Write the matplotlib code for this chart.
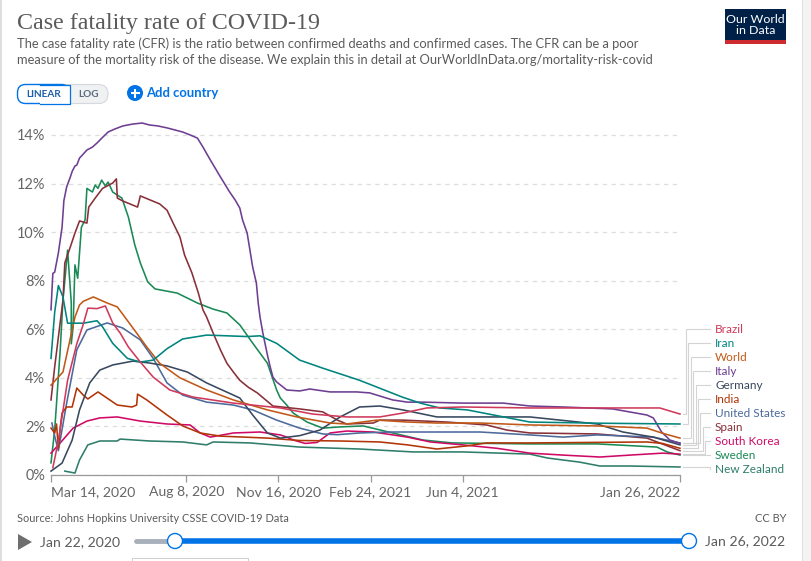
import matplotlib
matplotlib.use("Agg")
import matplotlib.pyplot as plt
import pandas as pd
from matplotlib.patches import Rectangle, FancyBboxPatch, Circle, Polygon

W, H = 811, 561
START = pd.Timestamp("2020-03-14")

tick_dates = ["2020-03-14", "2020-08-08", "2020-11-16", "2021-02-24", "2021-06-04", "2022-01-26"]
tick_labels = ["Mar 14, 2020", "Aug 8, 2020", "Nov 16, 2020", "Feb 24, 2021", "Jun 4, 2021", "Jan 26, 2022"]
y_ticks = [0, 2, 4, 6, 8, 10, 12, 14]

italy_days = [0, 2, 4, 8, 12, 14, 17, 21, 23, 26, 28, 31, 34, 39, 45, 50, 56, 62, 69, 78, 89, 99, 107, 116, 126, 135, 143, 151, 159, 165, 173, 184, 194, 200, 205, 208, 213, 216, 219, 223, 225, 227, 230, 235, 238, 241, 245, 256, 270, 281, 303, 332, 346, 371, 387, 404, 447, 491, 520, 556, 610, 647, 654, 663, 672, 683]
italy_cfr = [6.8, 8.3, 8.35, 9.14, 10.2, 11.3, 11.86, 12.27, 12.5, 12.72, 12.76, 13.05, 13.17, 13.38, 13.5, 13.67, 13.9, 14.12, 14.24, 14.37, 14.45, 14.49, 14.41, 14.37, 14.29, 14.2, 14.12, 14.0, 13.87, 13.5, 12.97, 12.27, 11.65, 11.32, 10.99, 10.5, 9.96, 9.26, 8.56, 7.9, 7.08, 6.5, 5.85, 4.94, 4.45, 4.03, 3.83, 3.5, 3.46, 3.54, 3.42, 3.42, 3.38, 3.09, 3.0, 3.0, 2.96, 2.96, 2.84, 2.8, 2.72, 2.47, 2.35, 1.77, 1.44, 1.3]

brazil_days = [2, 8, 18, 28, 35, 40, 50, 59, 67, 75, 84, 97, 111, 129, 154, 198, 249, 284, 321, 357, 382, 408, 447, 520, 610, 661, 683]
brazil_cfr = [0.3, 1.4, 3.9, 5.4, 6.2, 6.87, 6.85, 6.96, 6.26, 5.85, 5.27, 4.65, 4.03, 3.5, 3.21, 2.96, 2.76, 2.51, 2.39, 2.39, 2.55, 2.76, 2.8, 2.76, 2.76, 2.76, 2.51]

iran_days = [0, 4, 8, 13, 18, 35, 50, 56, 67, 83, 97, 111, 126, 143, 169, 213, 227, 245, 270, 295, 335, 382, 401, 422, 452, 520, 600, 683]
iran_cfr = [4.8, 6.7, 7.8, 7.33, 6.25, 6.25, 6.35, 6.1, 5.42, 4.8, 4.65, 4.73, 5.2, 5.6, 5.76, 5.7, 5.73, 5.42, 4.73, 4.4, 3.9, 3.2, 2.96, 2.76, 2.68, 2.18, 2.13, 2.1]

world_days = [0, 13, 26, 31, 35, 46, 61, 72, 89, 104, 118, 140, 169, 198, 235, 267, 303, 321, 354, 387, 419, 466, 520, 593, 647, 663, 683]
world_cfr = [3.7, 4.24, 6.5, 7.0, 7.15, 7.33, 7.08, 6.92, 6.05, 5.27, 4.6, 4.0, 3.5, 3.09, 2.68, 2.39, 2.14, 2.1, 2.26, 2.18, 2.14, 2.14, 2.06, 2.02, 1.93, 1.73, 1.52]

germany_days = [0, 12, 23, 31, 42, 53, 67, 89, 107, 126, 148, 169, 205, 219, 235, 249, 270, 292, 314, 335, 357, 382, 419, 466, 520, 593, 621, 654, 683]
germany_cfr = [0.16, 0.49, 1.44, 2.68, 3.79, 4.32, 4.53, 4.69, 4.61, 4.49, 4.24, 3.79, 3.17, 2.47, 1.73, 1.52, 1.62, 1.85, 2.39, 2.8, 2.84, 2.68, 2.39, 2.39, 2.39, 2.1, 1.77, 1.56, 1.24]

india_days = [0, 4, 6, 8, 10, 12, 17, 23, 28, 35, 40, 51, 72, 88, 93, 94, 104, 126, 143, 162, 184, 235, 270, 314, 357, 387, 419, 452, 473, 520, 647, 664, 683]
india_cfr = [1.93, 1.73, 2.1, 1.1, 1.95, 2.55, 2.8, 2.8, 3.58, 3.29, 3.13, 3.42, 2.88, 2.8, 2.88, 3.33, 3.09, 2.47, 2.02, 1.73, 1.6, 1.52, 1.42, 1.4, 1.36, 1.24, 1.07, 1.2, 1.32, 1.32, 1.36, 1.3, 1.1]

us_days = [1, 4, 8, 17, 28, 39, 61, 78, 97, 111, 126, 143, 169, 198, 219, 245, 270, 295, 311, 335, 368, 466, 520, 556, 593, 654, 683]
us_cfr = [2.14, 1.6, 1.0, 2.96, 5.15, 5.97, 6.26, 6.05, 5.56, 4.8, 3.79, 3.29, 3.0, 2.88, 2.68, 2.26, 1.93, 1.69, 1.66, 1.73, 1.77, 1.77, 1.65, 1.56, 1.65, 1.56, 1.32]

spain_days = [0, 4, 13, 15, 21, 26, 31, 39, 41, 48, 56, 67, 71, 72, 78, 94, 97, 118, 126, 132, 140, 145, 153, 160, 165, 169, 176, 184, 191, 198, 205, 214, 224, 241, 270, 295, 311, 321, 350, 357, 382, 430, 473, 495, 520, 593, 647, 683]
spain_cfr = [3.09, 4.45, 7.2, 8.73, 9.39, 9.96, 10.46, 10.37, 11.03, 11.4, 11.8, 12.02, 12.19, 11.4, 11.28, 11.03, 11.49, 11.16, 10.9, 10.42, 9.8, 9.06, 8.32, 7.49, 6.8, 6.5, 5.85, 5.15, 4.6, 4.24, 3.9, 3.62, 3.38, 2.84, 2.72, 2.6, 2.26, 2.1, 2.14, 2.26, 2.26, 2.18, 2.06, 1.85, 1.73, 1.69, 1.52, 1.0]

korea_days = [0, 10, 24, 39, 53, 72, 97, 126, 151, 162, 173, 198, 227, 249, 256, 263, 276, 289, 303, 321, 350, 387, 412, 447, 484, 520, 556, 596, 629, 664, 683]
korea_cfr = [0.9, 1.32, 1.93, 2.22, 2.35, 2.39, 2.22, 2.1, 2.06, 1.73, 1.56, 1.73, 1.77, 1.65, 1.56, 1.44, 1.3, 1.34, 1.73, 1.81, 1.77, 1.56, 1.36, 1.24, 1.1, 0.9, 0.82, 0.74, 0.82, 0.9, 0.86]

sweden_days = [0, 4, 10, 13, 15, 18, 22, 22, 24, 26, 29, 33, 37, 39, 45, 48, 51, 55, 59, 62, 67, 77, 84, 91, 97, 105, 113, 137, 159, 176, 191, 205, 219, 235, 245, 249, 256, 263, 278, 295, 314, 339, 371, 404, 436, 520, 593, 658, 669, 683]
sweden_cfr = [0.5, 1.85, 5.15, 7.2, 8.0, 9.26, 7.1, 5.4, 6.1, 8.65, 8.1, 10.2, 10.5, 11.8, 11.65, 11.94, 11.8, 12.14, 11.9, 12.06, 11.65, 11.4, 10.62, 9.47, 8.73, 7.95, 7.66, 7.49, 7.08, 6.83, 6.67, 6.18, 5.43, 4.6, 3.5, 3.17, 2.88, 2.55, 2.18, 1.93, 1.98, 2.02, 1.73, 1.44, 1.32, 1.28, 1.28, 1.15, 0.95, 0.82]

nz_days = [15, 26, 31, 40, 53, 72, 75, 107, 143, 169, 176, 216, 270, 335, 393, 447, 520, 539, 574, 596, 629, 683]
nz_cfr = [0.16, 0.08, 0.62, 1.24, 1.4, 1.4, 1.48, 1.4, 1.36, 1.24, 1.36, 1.32, 1.15, 1.07, 0.95, 0.95, 0.86, 0.7, 0.53, 0.37, 0.37, 0.33]

series = [
    ("New Zealand", nz_days, nz_cfr, "#2f7d6b"),
    ("Sweden", sweden_days, sweden_cfr, "#1a8a55"),
    ("South Korea", korea_days, korea_cfr, "#cf0a66"),
    ("Spain", spain_days, spain_cfr, "#883039"),
    ("United States", us_days, us_cfr, "#4c6a9c"),
    ("India", india_days, india_cfr, "#b13507"),
    ("Germany", germany_days, germany_cfr, "#38485f"),
    ("Italy", italy_days, italy_cfr, "#6d3e91"),
    ("World", world_days, world_cfr, "#c05917"),
    ("Iran", iran_days, iran_cfr, "#00847e"),
    ("Brazil", brazil_days, brazil_cfr, "#cf3a5b"),
]
legend_order = ["Brazil", "Iran", "World", "Italy", "Germany", "India", "United States", "Spain", "South Korea", "Sweden", "New Zealand"]

plt.rcParams["font.family"] = ["Lato", "DejaVu Sans"]
GREY = "#5b5b5b"
fig = plt.figure(figsize=(W / 100, H / 100), dpi=100, facecolor="white")

# page overlay in pixel space
ui = fig.add_axes([0, 0, 1, 1], zorder=0)
ui.set_xlim(0, W)
ui.set_ylim(H, 0)
ui.axis("off")


def px(s):
    return s / 100 * 72


ui.add_patch(Rectangle((0, 0), 2, H, fc="#dedede", ec="none"))
ui.add_patch(Rectangle((802, 0), 9, H, fc="#f3f3f3", ec="none"))
ui.add_patch(Rectangle((802, 0), 1, H, fc="#dedede", ec="none"))

ui.text(17, 23.5, "Case fatality rate of COVID-19", family="Liberation Serif", fontsize=px(24), color=GREY, va="center")
ui.text(17, 43.5, "The case fatality rate (CFR) is the ratio between confirmed deaths and confirmed cases. The CFR can be a poor", fontsize=px(12.85), color=GREY, va="center")
ui.text(17, 59.5, "measure of the mortality risk of the disease. We explain this in detail at OurWorldInData.org/mortality-risk-covid", fontsize=px(12.85), color=GREY, va="center")

# logo
ui.add_patch(Rectangle((725, 9), 61, 35, fc="#002147", ec="none"))
ui.add_patch(Rectangle((725, 40), 61, 4, fc="#ce2b30", ec="none"))
ui.text(755.5, 24.5, "Our World\nin Data", color="white", fontsize=px(12.4), ha="center", va="center", linespacing=1.0)

# scale toggle
ui.add_patch(FancyBboxPatch((25, 84.5), 83, 19, boxstyle="round,pad=0,rounding_size=9.5", fc="#f0f1f3", ec="#d5d8dc", lw=0.8))
ui.add_patch(FancyBboxPatch((17.5, 84.5), 52, 19, boxstyle="round,pad=0,rounding_size=8", fc="white", ec="#0073e6", lw=1))
ui.add_patch(Rectangle((40, 84.5), 29.5, 19, fc="white", ec="none"))
ui.plot([40, 69.5, 69.5, 40], [84.5, 84.5, 103.5, 103.5], color="#0073e6", lw=0.9)
ui.text(43.5, 94.5, "LINEAR", color="#1d5fa8", fontsize=px(10), weight="bold", ha="center", va="center")
ui.text(88.5, 94.5, "LOG", color="#5a6b80", fontsize=px(10), weight="bold", ha="center", va="center")
ui.add_patch(Circle((135, 93), 8, fc="#0073e6", ec="none"))
ui.plot([130.5, 139.5], [93, 93], color="white", lw=1.5, solid_capstyle="butt")
ui.plot([135, 135], [88.5, 97.5], color="white", lw=1.5, solid_capstyle="butt")
ui.text(146, 93, "Add country", color="#0073e6", fontsize=px(13), weight="bold", va="center")

# footer
ui.text(17, 518, "Source: Johns Hopkins University CSSE COVID-19 Data", color=GREY, fontsize=px(11), va="center")
ui.text(786, 518, "CC BY", color=GREY, fontsize=px(11), va="center", ha="right")
ui.add_patch(Polygon([(18, 534), (32, 542), (18, 550)], closed=True, fc="#6e6e6e", ec="none"))
ui.text(40, 542, "Jan 22, 2020", color=GREY, fontsize=px(14), va="center")
ui.text(705, 541, "Jan 26, 2022", color=GREY, fontsize=px(14), va="center")
ui.plot([136, 175], [541, 541], color="#a8b0bb", lw=3.5, solid_capstyle="round")
ui.plot([175, 689], [541, 541], color="#0073e6", lw=4, solid_capstyle="butt")
for cx in (175, 689):
    ui.add_patch(Circle((cx, 541), 7.5, fc="white", ec="#0073e6", lw=1, zorder=5))
ui.plot([131.5, 131.5, 248, 248], [561, 557.5, 557.5, 561], color="#d0d0d0", lw=0.7)

# chart area
L, R, T, B = 51, 680, 120, 475
PX_PER_PCT = 24.29
ax = fig.add_axes([L / W, 1 - B / H, (R - L) / W, (B - T) / H], zorder=1)
ax.patch.set_alpha(0)
ax.set_xlim(0, (pd.Timestamp(tick_dates[-1]) - START).days)
ax.set_ylim(0, (B - T) / PX_PER_PCT)
for s in ("top", "right", "left"):
    ax.spines[s].set_visible(False)
ax.spines["bottom"].set_color("#999999")
ax.spines["bottom"].set_linewidth(0.9)
ax.set_yticks(y_ticks)
ax.set_yticklabels([f"{v}%" for v in y_ticks], fontsize=px(14.5), color="#666666")
ax.tick_params(axis="y", length=0, pad=4.3)
ax.yaxis.grid(True, color="#dddddd", lw=0.9, dashes=(3.5, 3.5))
ax.set_axisbelow(True)
tick_pos = [(pd.Timestamp(d) - START).days for d in tick_dates]
ax.set_xticks(tick_pos)
ax.set_xticklabels(tick_labels, fontsize=px(14), color="#666666")
ax.tick_params(axis="x", length=5, width=0.9, color="#999999", pad=3)
xl = ax.get_xticklabels()
xl[0].set_ha("left")
xl[-1].set_ha("right")
for name, d, v, c in series:
    ax.plot(d, v, color=c, lw=1.15, solid_joinstyle="round", clip_on=False)

# legend labels with stepped connectors
colors = {n: c for n, _, _, c in series}
ends = {n: v[-1] for n, _, v, _ in series}
for i, name in enumerate(legend_order):
    ly = 329 + 14 * i
    ui.text(715, ly, name, color=colors[name], fontsize=px(11.7), va="center")
    ey = B - ends[name] * PX_PER_PCT
    mx = 686 + 2.4 * i
    ui.plot([683, mx, mx, 710], [ey, ey, ly, ly], color="#d4d4d4", lw=0.8, solid_joinstyle="miter")

fig.savefig("out.png", dpi=100)
